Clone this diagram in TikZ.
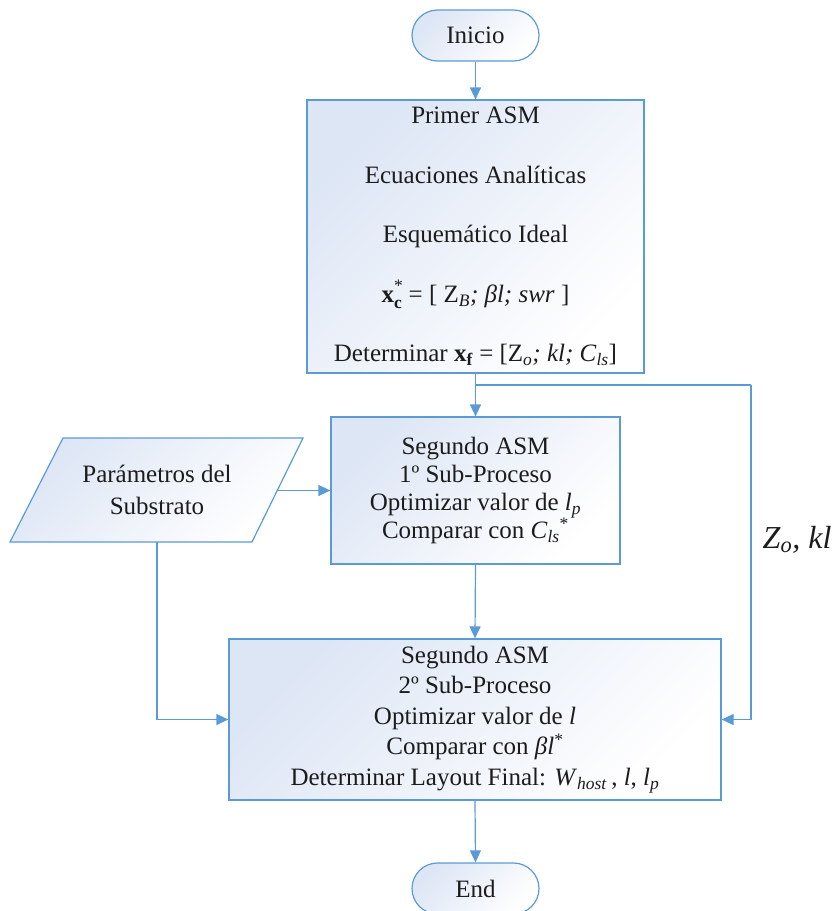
\documentclass[tikz,border=0pt]{standalone}
\usepackage{fontspec}
\setmainfont{Liberation Serif}
\usetikzlibrary{arrows.meta,calc}

\definecolor{flow}{RGB}{91,155,213}
\definecolor{tint}{RGB}{221,230,245}
\definecolor{ink}{RGB}{28,28,28}

\tikzset{
  shadefill/.style={top color=tint, bottom color=white, shading angle=45},
  box/.style={draw=flow, line width=1.2pt, rectangle, shadefill, text=ink,
              align=center, inner sep=0pt},
  terminal/.style={box, rounded corners=25.5pt, minimum width=127pt,
                   minimum height=51pt, font=\fontsize{25}{30}\selectfont},
  arr/.style={draw=flow, line width=1.2pt, -{Triangle[length=12pt,width=11pt]}},
  link/.style={draw=flow, line width=1.2pt},
}

\begin{document}
\begin{tikzpicture}[x=1pt,y=-1pt]
\useasboundingbox (0,0) rectangle (835,911);

% start / end terminals
\node[terminal] (ini) at (475.5,35.5) {Inicio};
\node[terminal] (fin) at (475.5,888.5) {End};

% first ASM stage
\node[box, minimum width=337pt, minimum height=273pt,
      font=\fontsize{25}{59.5}\selectfont] (b1) at (475.5,236.5)
  {Primer ASM\\
   Ecuaciones Analíticas\\
   Esquemático Ideal\\
   \textbf{x}\rlap{\raisebox{2pt}{\textsuperscript{*}}}\raisebox{-2pt}{\textsubscript{\textbf{c}}} = [ Z\textsubscript{\textit{B}}\textit{; βl; swr} ]\\
   Determinar \textbf{x}\textsubscript{\textbf{f}} = [Z\textsubscript{\textit{o}}\textit{; kl; C}\textsubscript{\textit{ls}}]};

% second ASM, first sub-process
\node[box, minimum width=289pt, minimum height=147pt,
      font=\fontsize{25}{28}\selectfont] (b2) at (475.5,490.5)
  {Segundo ASM\\
   1º Sub-Proceso\\
   Optimizar valor de \textit{l}\textsubscript{\textit{p}}\\
   Comparar con \textit{C}\textsubscript{\textit{ls}}\textsuperscript{*}};

% second ASM, second sub-process
\node[box, minimum width=492pt, minimum height=161pt,
      font=\fontsize{25}{30.5}\selectfont] (b3) at (475,719.5)
  {Segundo ASM\\
   2º Sub-Proceso\\
   Optimizar valor de \textit{l}\\
   Comparar con \textit{βl}\textsuperscript{*}\\
   Determinar Layout Final: \textit{W}\textsubscript{\textit{host}}\,, \textit{l}, \textit{l}\textsubscript{\textit{p}}};

% substrate data (parallelogram)
\path[draw=flow, line width=1.2pt, shadefill]
  (63,438) -- (303,438) -- (252,542) -- (10,542) -- cycle;
\node[text=ink, align=center, font=\fontsize{25}{32}\selectfont] (sub) at (157,490)
  {Parámetros del\\Substrato};
\coordinate (subR) at (277.5,490.5);
\coordinate (subB) at (157,542);

% side feedback label
\node[text=ink, font=\fontsize{32}{36}\selectfont] (zlab) at (797,540)
  {\textit{Z}\textsubscript{\textit{o}}\textit{, kl}};

% routing points
\coordinate (split) at (475.5,385);
\coordinate (rtop) at (751,385);
\coordinate (rbot) at (751,719.5);

% connectors
\draw[arr] (ini.south) -- (b1.north);
\draw[arr] (b1.south) -- (b2.north);
\draw[link] (split) -- (rtop);
\draw[arr] (rtop) -- (rbot) -- (b3.east);
\draw[arr] (subR) -- (b2.west);
\draw[arr] (subB) |- (b3.west);
\draw[arr] (b2.south) -- (b3.north);
\draw[arr] (b3.south) -- (fin.north);
\end{tikzpicture}
\end{document}
